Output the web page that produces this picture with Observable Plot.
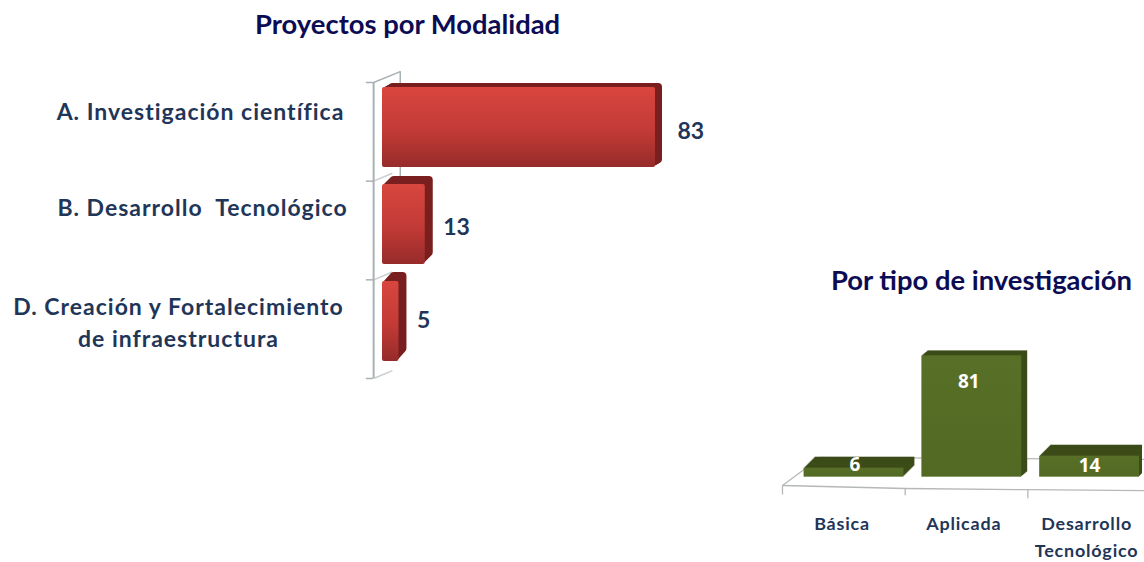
<!DOCTYPE html>
<html>
<head>
<meta charset="utf-8">
<script src="https://cdn.jsdelivr.net/npm/d3@7"></script>
<script src="https://cdn.jsdelivr.net/npm/@observablehq/plot@0.6"></script>
<style>
  html, body { margin: 0; padding: 0; background: #fff; width: 1144px; height: 562px; overflow: hidden; }
  .layer { position: absolute; left: 0; top: 0; width: 1144px; height: 562px; overflow: hidden; }
  .layer svg { background: transparent !important; display: block; }
  .title { position: absolute; font: 700 27.4px Lato, sans-serif; color: #0c0c55; white-space: nowrap; line-height: 30px; }
  .spaced text { letter-spacing: 1px; }
  .spaced-small text { letter-spacing: 0.8px; }
</style>
</head>
<body>
<div class="title" style="left:255px;top:9px">Proyectos por Modalidad</div>
<div class="title" style="left:831px;top:265px">Por tipo de investigación</div>
<script>
// ---- Data ----
const modalityLabels = ["A. Investigación científica", "B. Desarrollo  Tecnológico", "D. Creación y Fortalecimiento\nde infraestructura"];
const modalityValues = [83, 13, 5];
const typeLabels = ["Básica", "Aplicada", "Desarrollo\nTecnológico"];
const typeValues = [6, 81, 14];
const modalityBoundaries = [0, 1, 2, 3];
const typeBoundaries = [0, 1, 2, 3];

const modality = modalityLabels.map((label, i) => ({label, value: modalityValues[i]}));
const types = typeLabels.map((label, i) => ({label, value: typeValues[i]}));

// ---- Layout ----
const W = 1144, H = 562;
const barX = {domain: [0, 83], range: [382, 655], axis: null};
const barY = {domain: modalityLabels, range: [87, 362], paddingInner: 0.172, paddingOuter: 0, axis: null};
const colX = {domain: typeLabels, range: [804, 1141], paddingInner: 0.156, paddingOuter: 0, axis: null};
const colY = {domain: [0, 81], range: [477.5, 356], axis: null};
const base = {width: W, height: H, margin: 0, style: {background: "transparent", overflow: "hidden"}};

const redDepth = [[7, -4], [8, -8], [8, -9]];
const greenDepth = [[11, -11], [6, -5], [11, -11]];
const labelFont = {fontFamily: "Lato, sans-serif", fontWeight: 700, fill: "#1f3658"};

function gradient(id, stops) {
  const defs = d3.create("svg:defs");
  const g = defs.append("linearGradient").attr("id", id).attr("x1", 0).attr("y1", 0).attr("x2", 0).attr("y2", 1);
  stops.forEach(([o, c]) => g.append("stop").attr("offset", o).attr("stop-color", c));
  return () => defs.node();
}

function mount(chart) {
  const d = document.createElement("div");
  d.className = "layer";
  d.append(chart);
  document.body.append(d);
  return d;
}

// ---- Left chart: wall behind the bars ----
const wallColor = "#aab1b4";
mount(Plot.plot({
  ...base,
  x: barX,
  y: {domain: [0, 3], range: [82, 378], axis: null},
  marks: [
    Plot.link([0], {x1: () => -2.7, x2: () => 5.4, y1: () => 0, y2: () => -0.11, stroke: wallColor, strokeWidth: 1.5}),
    Plot.ruleX([5.4], {y1: -0.11, y2: 0.96, stroke: wallColor, strokeWidth: 1.5}),
    Plot.link([1, 2, 3], {x1: () => -2.7, x2: () => 3, y1: d => d, y2: d => d - 0.08, stroke: "#c9cecf", strokeWidth: 1.5}),
    Plot.ruleX([-2.7], {y1: 0, y2: 3, stroke: wallColor, strokeWidth: 2}),
    Plot.ruleY(modalityBoundaries, {x1: -4.9, x2: -2.7, stroke: wallColor, strokeWidth: 1.5})
  ]
}));

// ---- Left chart: bars ----
const redMarks = [gradient("redFront", [[0, "#d8463f"], [0.55, "#c23a36"], [1, "#962b2a"]])];
modality.forEach((d, i) => {
  const [ex, ey] = redDepth[i];
  for (let t = ex; t > 0; t--) {
    redMarks.push(Plot.barX([d], {x: "value", y: "label", fill: "#7a1f1f", rx: 4, dx: t, dy: ey * t / ex}));
  }
  redMarks.push(Plot.barX([d], {x: "value", y: "label", fill: "url(#redFront)", rx: 2}));
});
const modalityNudge = [[-182, -18], [-180, -19], [-204, -1]];
modality.forEach((d, i) => {
  const [dx, dy] = modalityNudge[i];
  redMarks.push(Plot.text([d], {x: () => 0, y: "label", text: "label", dx, dy, textAnchor: "middle", fontSize: 23, lineHeight: 1.43, className: "spaced", ...labelFont}));
});
const modalityValueNudge = [[22, 4], [18, 3], [18, -1]];
modality.forEach((d, i) => {
  const [dx, dy] = modalityValueNudge[i];
  redMarks.push(Plot.text([d], {x: "value", y: "label", text: "value", dx, dy, textAnchor: "start", fontSize: 23, ...labelFont}));
});
mount(Plot.plot({...base, x: barX, y: barY, marks: redMarks}));

// ---- Right chart: floor under the columns ----
const floorColor = "#b5b9b6";
const floorFront = [-5, -7, -7.8, -8.4];
const tickEnd = [-11, -11.5, -13.5, -14];
const floorBack = [13.8, 12.4];
mount(Plot.plot({
  ...base,
  x: {domain: [0, 3], range: [782, 1150], axis: null},
  y: colY,
  marks: [
    Plot.line(typeBoundaries, {x: d => d, y: (d, i) => floorFront[i], stroke: floorColor, strokeWidth: 1.3}),
    Plot.link(typeBoundaries.slice(0, 3), {x1: d => d, x2: d => d, y1: (d, i) => floorFront[i], y2: (d, i) => tickEnd[i], stroke: floorColor, strokeWidth: 1.3}),
    Plot.link([0], {x1: () => 0, y1: () => floorFront[0], x2: () => 0.31, y2: () => floorBack[0], stroke: floorColor, strokeWidth: 1.3}),
    Plot.link([0], {x1: () => 0.31, y1: () => floorBack[0], x2: () => 3, y2: () => floorBack[1], stroke: floorColor, strokeWidth: 1.3})
  ]
}));

// ---- Right chart: columns ----
const greenMarks = [gradient("greenFront", [[0, "#586f27"], [1, "#526923"]])];
types.forEach((d, i) => {
  const [ex, ey] = greenDepth[i];
  for (let t = ex; t > 0; t--) {
    greenMarks.push(Plot.barY([d], {x: "label", y: "value", fill: "#3c4c18", dx: t, dy: ey * t / ex}));
  }
  greenMarks.push(Plot.barY([d], {x: "label", y: "value", fill: "url(#greenFront)"}));
});
const valueNudge = [[1, -3], [-3, 26], [0, 10]];
types.forEach((d, i) => {
  const [dx, dy] = valueNudge[i];
  greenMarks.push(Plot.text([d], {x: "label", y: "value", text: "value", dx, dy, fill: "#fff", fontSize: 19, fontWeight: 700, fontFamily: "Open Sans, sans-serif"}));
});
const typeNudge = [-12, -8, -3];
types.forEach((d, i) => {
  greenMarks.push(Plot.text([d], {x: "label", y: () => 0, text: "label", dx: typeNudge[i], dy: i === 2 ? 58 : 44, fontSize: 18, lineHeight: 1.47, className: "spaced-small", ...labelFont}));
});
const greenLayer = mount(Plot.plot({...base, x: colX, y: colY, marks: greenMarks}));
greenLayer.style.width = "1142px";
</script>
</body>
</html>
